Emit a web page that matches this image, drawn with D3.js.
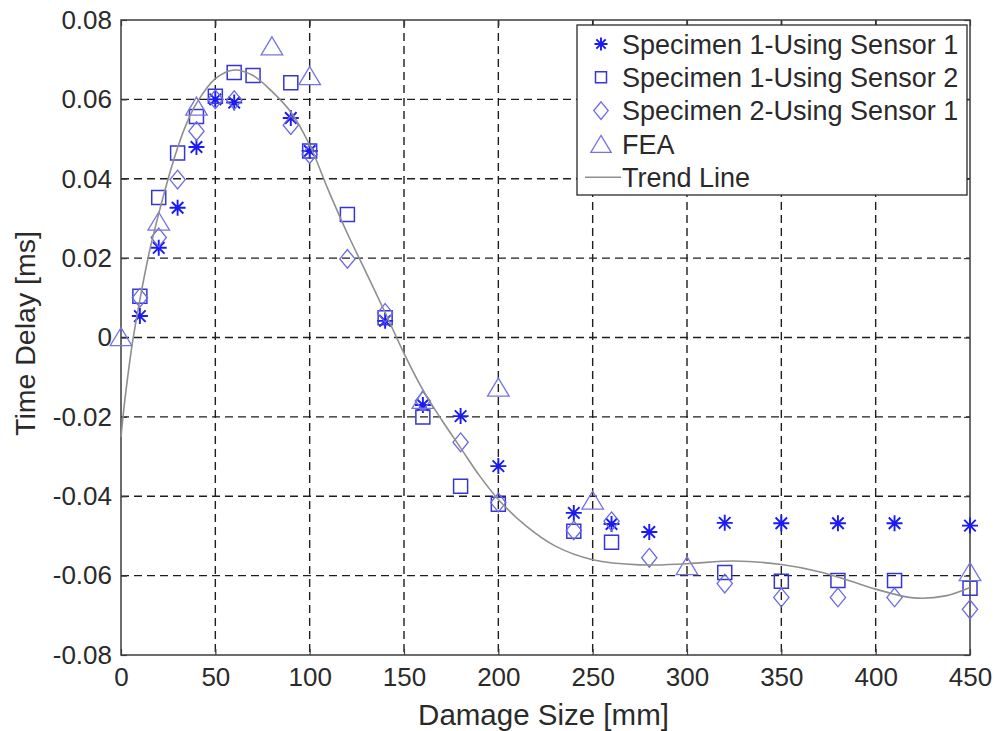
<!DOCTYPE html>
<html>
<head>
<meta charset="utf-8">
<script src="https://cdn.jsdelivr.net/npm/d3@7"></script>
<style>
  html, body { margin: 0; padding: 0; background: #fff; }
  svg text { font-family: Arial, "Liberation Sans", Helvetica, sans-serif; fill: #2a2a2a; }
</style>
</head>
<body>
<svg id="chart" width="996" height="731"></svg>
<script>
// Damage sizes (mm) for each data set
const sizesS1A = [10, 20, 30, 40, 50, 60, 90, 100, 140, 160, 180, 200, 240, 260, 280, 320, 350, 380, 410, 450];
const delayS1A = [0.0054, 0.0226, 0.0327, 0.0480, 0.0600, 0.0592, 0.0553, 0.0470, 0.0042, -0.0170, -0.0198, -0.0324, -0.0442, -0.0470, -0.0490, -0.0467, -0.0468, -0.0468, -0.0468, -0.0474];

const sizesS1B = [10, 20, 30, 40, 50, 60, 70, 90, 100, 120, 140, 160, 180, 200, 240, 260, 320, 350, 380, 410, 450];
const delayS1B = [0.0104, 0.0353, 0.0465, 0.0557, 0.0608, 0.0668, 0.0660, 0.0642, 0.0470, 0.0310, 0.0050, -0.0200, -0.0375, -0.0420, -0.0488, -0.0516, -0.0592, -0.0614, -0.0612, -0.0612, -0.0632];

const sizesS2A = [10, 20, 30, 40, 50, 60, 90, 100, 120, 140, 160, 180, 200, 240, 260, 280, 320, 350, 380, 410, 450];
const delayS2A = [0.0100, 0.0252, 0.0398, 0.0520, 0.0600, 0.0598, 0.0535, 0.0462, 0.0198, 0.0062, -0.0160, -0.0264, -0.0416, -0.0486, -0.0463, -0.0555, -0.0620, -0.0655, -0.0655, -0.0655, -0.0685];

const sizesFEA = [0, 20, 40, 80, 100, 160, 200, 250, 300, 450];
const delayFEA = [0.0002, 0.0293, 0.0583, 0.0735, 0.0660, -0.0156, -0.0125, -0.0410, -0.0575, -0.0590];

// Fitted trend curve, sampled
const trendX = [0, 1.5, 3, 6, 10, 15, 20, 25, 30, 35, 40, 50, 60, 70, 80, 90, 100, 110, 120, 130, 140, 150, 160, 170, 180, 190, 200, 215, 230, 250, 275, 300, 325, 350, 370, 385, 400, 420, 437, 450];
const trendY = [-0.0250, -0.0180, -0.0120, -0.0015, 0.0095, 0.0215, 0.0312, 0.0400, 0.0478, 0.0542, 0.0590, 0.0652, 0.0674, 0.0660, 0.0620, 0.0568, 0.0485, 0.0370, 0.0262, 0.0163, 0.0063, -0.0040, -0.0132, -0.0208, -0.0278, -0.0348, -0.0408, -0.0476, -0.0525, -0.0560, -0.0573, -0.0570, -0.0563, -0.0572, -0.0590, -0.0611, -0.0634, -0.0656, -0.0651, -0.0630];

const xTicks = [0, 50, 100, 150, 200, 250, 300, 350, 400, 450];
const yTicks = [-0.08, -0.06, -0.04, -0.02, 0, 0.02, 0.04, 0.06, 0.08];
const yTickLabels = ["-0.08", "-0.06", "-0.04", "-0.02", "0", "0.02", "0.04", "0.06", "0.08"];

const legendLabels = ["Specimen 1-Using Sensor 1", "Specimen 1-Using Sensor 2", "Specimen 2-Using Sensor 1", "FEA", "Trend Line"];

const svg = d3.select("#chart");
const plot = { left: 121, right: 970, top: 20, bottom: 655 };

const x = d3.scaleLinear().domain([0, 450]).range([plot.left, plot.right]);
const y = d3.scaleLinear().domain([-0.08, 0.08]).range([plot.bottom, plot.top]);

// marker path generators (centred on 0,0)
const shapes = {
  star: s => {
    const r = s / 2, d = r * 0.72;
    return `M${-r},0L${r},0M0,${-r}L0,${r}M${-d},${-d}L${d},${d}M${-d},${d}L${d},${-d}`;
  },
  square: s => { const r = s / 2; return `M${-r},${-r}H${r}V${r}H${-r}Z`; },
  diamond: s => { const w = s * 0.45, h = s * 0.55; return `M0,${-h}L${w},0L0,${h}L${-w},0Z`; },
  triangle: s => { const w = s * 0.6, h = s * 0.5; return `M0,${-h}L${w},${h}L${-w},${h}Z`; }
};

const seriesStyle = [
  { shape: "star", size: 16, color: "#1a1af2", width: 1.9 },
  { shape: "square", size: 14, color: "#3535d8", width: 1.5 },
  { shape: "diamond", size: 17, color: "#6a6ae4", width: 1.3 },
  { shape: "triangle", size: 18, color: "#7474e6", width: 1.3 }
];

// grid
const grid = svg.append("g").attr("stroke", "#1e1e1e").attr("stroke-width", 1.4).attr("stroke-dasharray", "8,5");
grid.selectAll("line.v").data(xTicks.slice(1, -1)).join("line")
  .attr("x1", d => x(d)).attr("x2", d => x(d)).attr("y1", plot.top).attr("y2", plot.bottom);
grid.selectAll("line.h").data(yTicks.slice(1, -1)).join("line")
  .attr("y1", d => y(d)).attr("y2", d => y(d)).attr("x1", plot.left).attr("x2", plot.right);

// axes: ticks inside on all four sides
const tickLen = 6;
const axisColor = "#3c3c3c";
function styleAxis(g) {
  g.select(".domain").remove();
  g.selectAll(".tick line").attr("stroke", axisColor).attr("stroke-width", 1.2);
  g.selectAll(".tick text").attr("font-size", 26).attr("fill", "#2a2a2a")
    .attr("font-family", "Arial, 'Liberation Sans', sans-serif");
}
svg.append("g").attr("transform", `translate(0,${plot.bottom})`)
  .call(d3.axisBottom(x).tickValues(xTicks).tickSize(-tickLen).tickPadding(13).tickFormat(d3.format("d")))
  .call(styleAxis)
  .call(g => g.selectAll(".tick text").attr("dy", "0.71em"));
svg.append("g").attr("transform", `translate(0,${plot.top})`)
  .call(d3.axisTop(x).tickValues(xTicks).tickSize(-tickLen).tickFormat(""))
  .call(styleAxis);
svg.append("g").attr("transform", `translate(${plot.left},0)`)
  .call(d3.axisLeft(y).tickValues(yTicks).tickSize(-tickLen).tickPadding(9).tickFormat((d, i) => yTickLabels[i]))
  .call(styleAxis);
svg.append("g").attr("transform", `translate(${plot.right},0)`)
  .call(d3.axisRight(y).tickValues(yTicks).tickSize(-tickLen).tickFormat(""))
  .call(styleAxis);

svg.append("rect")
  .attr("x", plot.left).attr("y", plot.top)
  .attr("width", plot.right - plot.left).attr("height", plot.bottom - plot.top)
  .attr("fill", "none").attr("stroke", axisColor).attr("stroke-width", 1.5);

// data markers
const dataSets = [
  { xs: sizesS1A, ys: delayS1A },
  { xs: sizesS1B, ys: delayS1B },
  { xs: sizesS2A, ys: delayS2A },
  { xs: sizesFEA, ys: delayFEA }
];
dataSets.forEach((set, k) => {
  const st = seriesStyle[k];
  const pts = set.xs.map((v, i) => [v, set.ys[i]]);
  svg.append("g").selectAll("path").data(pts).join("path")
    .attr("d", shapes[st.shape](st.size))
    .attr("transform", d => `translate(${x(d[0])},${y(d[1])})`)
    .attr("fill", "none").attr("stroke", st.color).attr("stroke-width", st.width);
});

// trend line
const trendPts = trendX.map((v, i) => [v, trendY[i]]);
svg.append("path")
  .datum(trendPts)
  .attr("d", d3.line().x(d => x(d[0])).y(d => y(d[1])).curve(d3.curveCatmullRom.alpha(0.5)))
  .attr("fill", "none").attr("stroke", "#8f8f8f").attr("stroke-width", 1.6);

// axis titles
svg.append("text")
  .attr("x", (plot.left + plot.right) / 2 - 2).attr("y", 725)
  .attr("text-anchor", "middle").attr("font-size", 29.5)
  .text("Damage Size [mm]");
svg.append("text")
  .attr("transform", `translate(35,${(plot.top + plot.bottom) / 2 - 4}) rotate(-90)`)
  .attr("text-anchor", "middle").attr("font-size", 28.5)
  .text("Time Delay [ms]");

// legend
const legend = svg.append("g");
legend.append("rect")
  .attr("x", 577).attr("y", 25).attr("width", 390).attr("height", 170)
  .attr("fill", "#fff").attr("stroke", "#2a2a2a").attr("stroke-width", 1.3);
const rowY = i => 44 + i * 33.3;
const legendMarkers = [
  { shape: "star", size: 13 },
  { shape: "square", size: 11 },
  { shape: "diamond", size: 16 },
  { shape: "triangle", size: 17 }
];
legendMarkers.forEach((m, i) => {
  const st = seriesStyle[i];
  legend.append("path")
    .attr("d", shapes[m.shape](m.size))
    .attr("transform", `translate(601,${rowY(i)})`)
    .attr("fill", "none").attr("stroke", st.color).attr("stroke-width", st.width);
});
legend.append("line")
  .attr("x1", 585).attr("x2", 621).attr("y1", rowY(4)).attr("y2", rowY(4))
  .attr("stroke", "#8f8f8f").attr("stroke-width", 1.6);
legend.selectAll("text.lbl").data(legendLabels).join("text")
  .attr("class", "lbl")
  .attr("x", 622).attr("y", (d, i) => rowY(i)).attr("dy", "0.36em")
  .attr("font-size", 27)
  .text(d => d);
</script>
</body>
</html>
